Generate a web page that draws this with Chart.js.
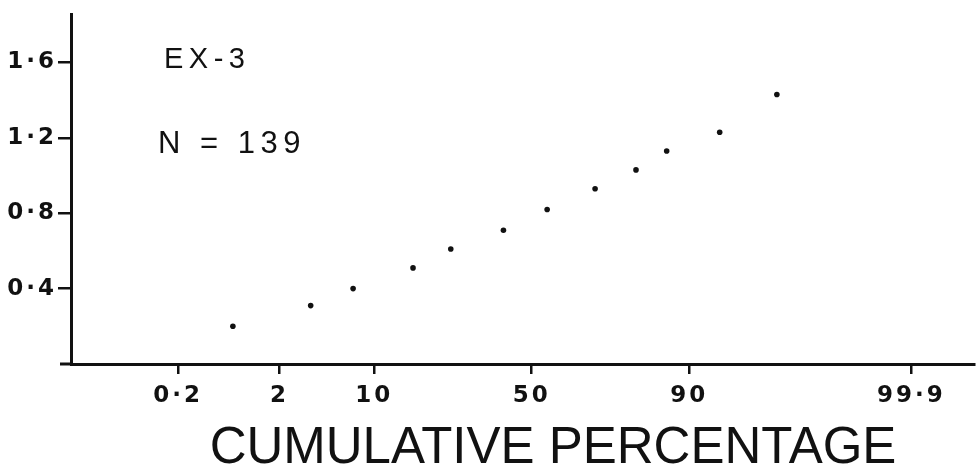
<!DOCTYPE html>
<html>
<head>
<meta charset="utf-8">
<script src="https://cdn.jsdelivr.net/npm/chart.js@4"></script>
<style>
  html, body { margin: 0; padding: 0; background: #fff; }
</style>
</head>
<body>
<canvas id="probChart" width="978" height="476"></canvas>
<script>
// cumulative percentage of each point
const cumulativePercent = [0.75, 3.6, 7.3, 16.7, 25.5, 40.9, 55.0, 69.7, 80.2, 86.4, 93.7, 97.7];
const values = [0.20, 0.31, 0.40, 0.51, 0.61, 0.71, 0.82, 0.93, 1.03, 1.13, 1.23, 1.43];

const xTickPercent = [0.2, 2, 10, 50, 90, 99.9];
const xTickLabels = ['0·2', '2', '10', '50', '90', '99·9'];
const yTickValues = [0.4, 0.8, 1.2, 1.6];
const yTickLabels = ['0·4', '0·8', '1·2', '1·6'];

const sampleName = 'EX-3';
const sampleSize = 'N = 139';
const xTitle = 'CUMULATIVE PERCENTAGE';

const ink = '#111';
const font = 'Liberation Sans';
const tickFont = 'DejaVu Sans';

// inverse normal CDF (Acklam) - turns a percentage into probability-paper units
function probit(pct) {
    const p = pct / 100;
    const a = [-3.969683028665376e+01, 2.209460984245205e+02, -2.759285104469687e+02, 1.383577518672690e+02, -3.066479806614716e+01, 2.506628277459239e+00];
    const b = [-5.447609879822406e+01, 1.615858368580409e+02, -1.556989798598866e+02, 6.680131188771972e+01, -1.328068155288572e+01];
    const c = [-7.784894002430293e-03, -3.223964580411365e-01, -2.400758277161838e+00, -2.549732539343734e+00, 4.374664141464968e+00, 2.938163982698783e+00];
    const d = [7.784695709041462e-03, 3.224671290700398e-01, 2.445134137142996e+00, 3.754408661907416e+00];
    const pLow = 0.02425;
    let q, r;
    if (p < pLow) {
        q = Math.sqrt(-2 * Math.log(p));
        return (((((c[0] * q + c[1]) * q + c[2]) * q + c[3]) * q + c[4]) * q + c[5]) / ((((d[0] * q + d[1]) * q + d[2]) * q + d[3]) * q + 1);
    }
    if (p <= 1 - pLow) {
        q = p - 0.5;
        r = q * q;
        return (((((a[0] * r + a[1]) * r + a[2]) * r + a[3]) * r + a[4]) * r + a[5]) * q / (((((b[0] * r + b[1]) * r + b[2]) * r + b[3]) * r + b[4]) * r + 1);
    }
    q = Math.sqrt(-2 * Math.log(1 - p));
    return -(((((c[0] * q + c[1]) * q + c[2]) * q + c[3]) * q + c[4]) * q + c[5]) / ((((d[0] * q + d[1]) * q + d[2]) * q + d[3]) * q + 1);
}

const points = cumulativePercent.map((p, i) => ({ x: probit(p), y: values[i] }));

// labels drawn on top of the chart (sample name, N and axis title)
const annotations = {
    id: 'annotations',
    beforeDraw(chart) {
        chart.ctx.letterSpacing = '3px';
    },
    afterDraw(chart) {
        const { ctx, chartArea } = chart;
        ctx.save();
        // x axis runs a bit past the y axis on the left
        ctx.strokeStyle = ink;
        ctx.lineWidth = 3;
        ctx.beginPath();
        ctx.moveTo(chartArea.left - 11, chartArea.bottom);
        ctx.lineTo(chartArea.left, chartArea.bottom);
        ctx.stroke();

        ctx.fillStyle = ink;
        ctx.textBaseline = 'alphabetic';
        ctx.textAlign = 'left';
        ctx.font = '29px "' + font + '"';
        ctx.letterSpacing = '5.5px';
        ctx.fillText(sampleName, chartArea.left + 93, chartArea.top + 53);
        ctx.font = '31px "' + font + '"';
        ctx.letterSpacing = '5.5px';
        ctx.fillText(sampleSize, chartArea.left + 87, chartArea.top + 138);

        ctx.font = '51px "' + font + '"';
        ctx.letterSpacing = '0px';
        ctx.textAlign = 'center';
        ctx.fillText(xTitle, chartArea.left + 482, chartArea.bottom + 99);
        ctx.restore();
    }
};

const ctx = document.getElementById('probChart').getContext('2d');

new Chart(ctx, {
    type: 'scatter',
    data: {
        datasets: [{
            data: points,
            backgroundColor: ink,
            borderColor: ink,
            borderWidth: 0,
            pointRadius: 2.8,
        }],
    },
    options: {
        responsive: false,
        animation: false,
        devicePixelRatio: 1,
        layout: { padding: { top: 12, left: 0, right: 0, bottom: 0 } },
        plugins: {
            legend: { display: false },
            tooltip: { enabled: false },
        },
        scales: {
            x: {
                type: 'linear',
                min: -3.75,
                max: 3.60,
                grid: { display: true, drawOnChartArea: false, drawTicks: true, tickLength: 10, color: ink, lineWidth: 2.5 },
                border: { display: true, color: ink, width: 3 },
                ticks: {
                    color: ink,
                    font: { family: tickFont, size: 23, weight: 'bold' },
                    padding: 8,
                    maxRotation: 0,
                    autoSkip: false,
                    callback: (value, index) => xTickLabels[index],
                },
                afterBuildTicks: scale => {
                    scale.ticks = xTickPercent.map(p => ({ value: probit(p) }));
                },
                afterFit: scale => { scale.height = 112; },
            },
            y: {
                type: 'linear',
                min: 0,
                max: 1.853,
                grid: { display: true, drawOnChartArea: false, drawTicks: true, tickLength: 13, color: ink, lineWidth: 2.5 },
                border: { display: true, color: ink, width: 3 },
                ticks: {
                    color: ink,
                    font: { family: tickFont, size: 23, weight: 'bold' },
                    padding: 1,
                    callback: (value, index) => yTickLabels[index],
                },
                afterBuildTicks: scale => {
                    scale.ticks = yTickValues.map(v => ({ value: v }));
                },
                afterFit: scale => { scale.width = 71; },
            },
        },
    },
    plugins: [annotations],
});
</script>
</body>
</html>
